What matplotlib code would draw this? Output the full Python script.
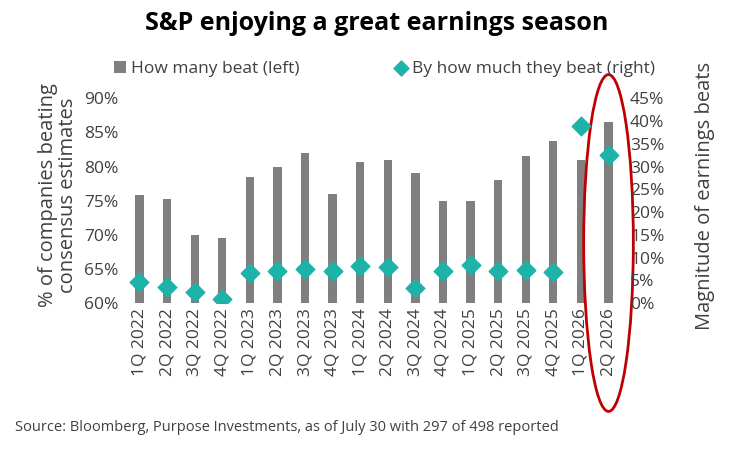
import numpy as np
import matplotlib.pyplot as plt
from matplotlib.patches import Ellipse

quarters = ["1Q 2022", "2Q 2022", "3Q 2022", "4Q 2022", "1Q 2023", "2Q 2023", "3Q 2023", "4Q 2023",
            "1Q 2024", "2Q 2024", "3Q 2024", "4Q 2024", "1Q 2025", "2Q 2025", "3Q 2025", "4Q 2025",
            "1Q 2026", "2Q 2026"]
beat_pct = [75.9, 75.2, 70.0, 69.6, 78.5, 80.0, 82.0, 76.0, 80.6, 81.0, 79.0, 75.0, 75.0, 78.0,
            81.5, 83.7, 81.0, 86.5]
beat_mag = [4.6, 3.5, 2.4, 0.9, 6.6, 7.0, 7.5, 7.0, 8.1, 7.9, 3.3, 7.0, 8.3, 7.0, 7.2, 6.8, 38.8, 32.5]

plt.rcParams['font.family'] = ['Open Sans', 'DejaVu Sans']
fig = plt.figure(figsize=(7.54, 4.49), dpi=100)
ax = fig.add_axes([0.163, 0.325, 0.666, 0.479])
x = np.arange(len(quarters))
ax.bar(x, np.array(beat_pct) - 60, bottom=60, width=0.3, color="#7f7f7f", label="How many beat (left)")
ax.set_ylim(60, 91.5)
ax.set_xlim(-0.6, len(quarters) - 0.4)
ax.set_yticks(range(60, 91, 5))
ax.set_yticklabels([f"{v}%" for v in range(60, 91, 5)], fontsize=12.5, color="#404040")
ax.set_xticks(x)
ax.set_xticklabels(quarters, rotation=90, fontsize=12.5, color="#404040")
ax.set_ylabel("% of companies beating\nconsensus estimates", fontsize=14.5, color="#404040",
              linespacing=1.0)

ax2 = ax.twinx()
ax2.scatter(x, beat_mag, marker="D", s=90, color="#1db3a8", zorder=3, label="By how much they beat (right)")
ax2.set_ylim(0, 47.25)
ax2.set_yticks(range(0, 46, 5))
ax2.set_yticklabels([f"{v}%" for v in range(0, 46, 5)], fontsize=12.5, color="#404040")
ax2.set_ylabel("Magnitude of earnings beats", fontsize=14.5, color="#404040", labelpad=22)

for a in (ax, ax2):
    for s in a.spines.values():
        s.set_visible(False)
    a.tick_params(length=0)

ax2.add_patch(Ellipse((17, 13.2), 1.8, 74, transform=ax2.transData, fill=False,
                      edgecolor="#c00000", linewidth=2, clip_on=False))

h1, l1 = ax.get_legend_handles_labels()
h2, l2 = ax2.get_legend_handles_labels()
fig.legend(h1 + h2, l1 + l2, loc="upper center", bbox_to_anchor=(0.51, 0.9), ncol=2,
           frameon=False, fontsize=12.5, handlelength=0.7, handletextpad=0.3, markerscale=0.8,
           columnspacing=5.5, labelcolor="#404040")
fig.suptitle("S&P enjoying a great earnings season", fontsize=18, fontweight="bold", y=0.975)
fig.text(0.02, 0.04, "Source: Bloomberg, Purpose Investments, as of July 30 with 297 of 498 reported",
         fontsize=10.5, color="#404040")
fig.savefig("out.png", dpi=100)
